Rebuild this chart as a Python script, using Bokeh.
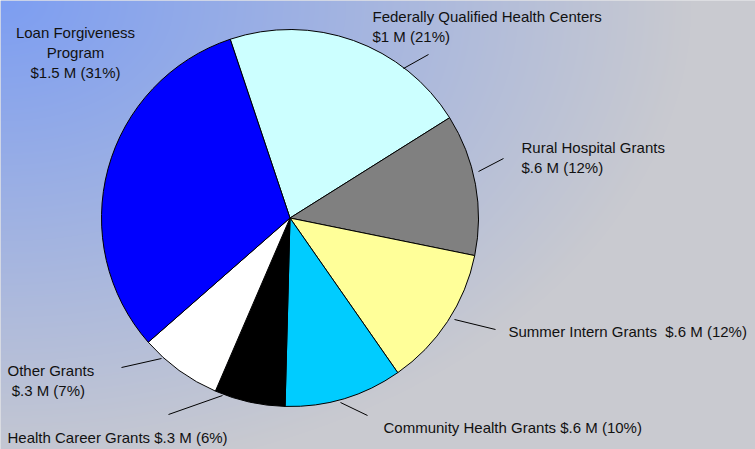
import numpy as np
from bokeh.plotting import figure
from bokeh.models import Range1d
from bokeh.core.properties import value
from bokeh.embed import file_html
from bokeh.resources import INLINE

# ---------------- data ----------------
categories = ["Federally Qualified Health Centers", "Rural Hospital Grants",
              "Summer Intern Grants", "Community Health Grants",
              "Health Career Grants", "Other Grants", "Loan Forgiveness Program"]
amounts = ["$1 M", "$.6 M", "$.6 M", "$.6 M", "$.3 M", "$.3 M", "$1.5 M"]
percents = [21, 12, 12, 10, 6, 7, 31]
colors = ["#CCFFFF", "#808080", "#FFFF99", "#00CCFF", "#000000", "#FFFFFF", "#0000FF"]

# ---------------- layout (reference pixel frame 755x449, y down) ----------------
REF_W, REF_H = 755, 449
W, H = 755, 449
sx, sy = W / REF_W, H / REF_H
cx, cy, R = 289.5, 217.5, 188.5
start_deg = -18.5  # clockwise from 12 o'clock
NB = "\u00a0"

label_layout = [
    (0, [f"{categories[0]}", f"{amounts[0]} ({percents[0]}%)"], 372, 16, "left"),
    (1, [f"{categories[1]}", f"{amounts[1]} ({percents[1]}%)"], 521, 147, "left"),
    (2, [f"{categories[2]}{NB}{NB}{amounts[2]} ({percents[2]}%)"], 508, 331, "left"),
    (3, [f"{categories[3]} {amounts[3]} ({percents[3]}%)"], 383, 427, "left"),
    (4, [f"{categories[4]} {amounts[4]} ({percents[4]}%)"], 7, 437, "left"),
    (5, [f"{categories[5]}", f"{NB}{amounts[5]} ({percents[5]}%)"], 7, 370, "left"),
    (6, ["Loan Forgiveness", "Program", f"{amounts[6]} ({percents[6]}%)"], 75, 32, "center"),
]
line_gap = 20
leaders = [((403, 68), (428, 54)), ((478, 171), (503, 158)), ((454, 319), (495, 329)),
           ((340, 402), (367, 415)), ((222, 395), (168, 414)), ((161, 358), (121, 367))]

def Y(y):
    return REF_H - y

p = figure(width=W, height=H, output_backend="svg", toolbar_location=None,
           x_range=Range1d(0, REF_W), y_range=Range1d(0, REF_H),
           min_border=0, outline_line_color=None)
p.axis.visible = False
p.grid.visible = False
p.background_fill_color = "#C8C9D0"
p.border_fill_color = "#C8C9D0"

# background gradient
yy, xx = np.mgrid[0:H, 0:W]
xr = xx / sx
yr = (H - 1 - yy) / sy  # row 0 is bottom
t = np.clip(np.sqrt((xr / 690.0) ** 2 + (yr / 480.0) ** 2), 0, 1)
c0 = np.array([125, 158, 242])
c1 = np.array([201, 202, 208])
rgb = (c0[None, None, :] * (1 - t[..., None]) + c1[None, None, :] * t[..., None]).astype(np.uint8)
img = np.empty((H, W), dtype=np.uint32)
view = img.view(dtype=np.uint8).reshape((H, W, 4))
view[..., 0] = rgb[..., 0]
view[..., 1] = rgb[..., 1]
view[..., 2] = rgb[..., 2]
view[..., 3] = 255
p.image_rgba(image=[img], x=0, y=0, dw=REF_W, dh=REF_H)

# pie
total = float(sum(percents))
cum = start_deg
starts, ends = [], []
for v in percents:
    a0 = cum
    a1 = cum + v / total * 360.0
    starts.append(np.radians(90 - a0))
    ends.append(np.radians(90 - a1))
    cum = a1
p.wedge(x=cx, y=Y(cy), radius=R * (sx + sy) / 2, radius_units="screen",
        start_angle=starts, end_angle=ends, direction="clock",
        fill_color=colors, line_color="black", line_width=1)

# leader lines
p.segment(x0=[a[0] for a, b in leaders], y0=[Y(a[1]) for a, b in leaders],
          x1=[b[0] for a, b in leaders], y1=[Y(b[1]) for a, b in leaders],
          line_color="black", line_width=1)

# labels
for idx, lines, lx, ly, align in label_layout:
    p.text(x=[lx] * len(lines), y=[Y(ly + i * line_gap) for i in range(len(lines))],
           text=lines, text_font=value("Liberation Sans"), text_font_size="15px",
           text_align=align, text_baseline="middle", text_color="#111111")

open("out.html", "w").write(file_html(p, INLINE))
